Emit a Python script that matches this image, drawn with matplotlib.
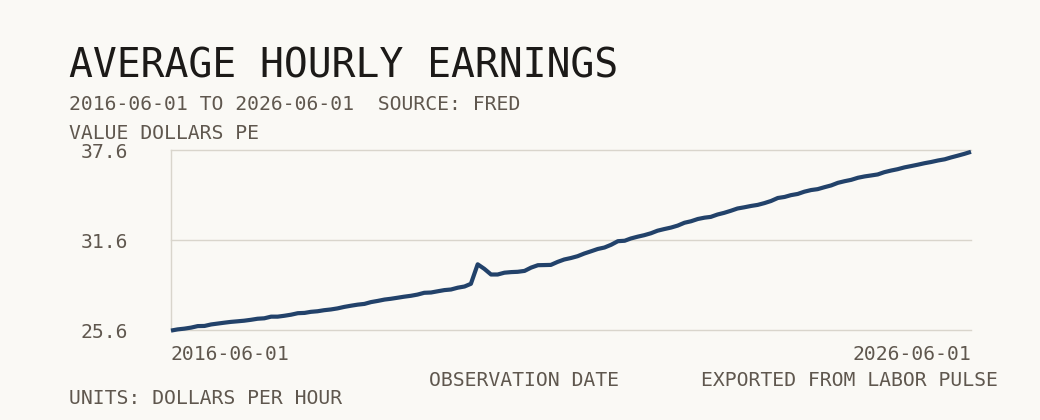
import numpy as np
import pandas as pd
from matplotlib import pyplot as plt

dates = pd.date_range("2016-06-01", "2026-06-01", freq="MS")
earnings = [
    25.56, 25.64, 25.69, 25.76, 25.86, 25.87, 25.97,                      # 2016 Jun-Dec
    26.03, 26.09, 26.14, 26.18, 26.22, 26.28, 26.35, 26.38, 26.49, 26.49, 26.55, 26.62,  # 2017
    26.72, 26.74, 26.81, 26.85, 26.92, 26.97, 27.04, 27.14, 27.22, 27.29, 27.34, 27.46,  # 2018
    27.54, 27.63, 27.68, 27.75, 27.82, 27.88, 27.96, 28.08, 28.10, 28.18, 28.26, 28.30,  # 2019
    28.42, 28.50, 28.68, 29.98, 29.68, 29.30, 29.30, 29.42, 29.46, 29.48, 29.54, 29.76,  # 2020
    29.92, 29.93, 29.94, 30.14, 30.30, 30.40, 30.52, 30.70, 30.85, 31.00, 31.10, 31.28,  # 2021
    31.52, 31.55, 31.70, 31.82, 31.92, 32.05, 32.22, 32.33, 32.43, 32.56, 32.75, 32.85,  # 2022
    33.00, 33.09, 33.14, 33.30, 33.41, 33.55, 33.70, 33.78, 33.87, 33.94, 34.06, 34.20,  # 2023
    34.40, 34.47, 34.59, 34.67, 34.82, 34.93, 34.99, 35.12, 35.24, 35.41, 35.52, 35.61,  # 2024
    35.75, 35.84, 35.90, 35.97, 36.12, 36.23, 36.32, 36.44, 36.53, 36.62, 36.72, 36.80,  # 2025
    36.90, 36.98, 37.10, 37.22, 37.34, 37.48,                                            # 2026 Jan-Jun
]
y_ticks = [25.6, 31.6, 37.6]
x_tick_labels = ["2016-06-01", "2026-06-01"]

BG = "#faf9f5"
INK = "#5f574e"
GRID = "#d9d5cc"
LINE = "#22426a"
W, H = 1040, 420
FS = 14.2

plt.rcParams["font.family"] = ["DejaVu Sans Mono", "DejaVu Sans"]

fig = plt.figure(figsize=(W / 100, H / 100), dpi=100, facecolor=BG)
ax = fig.add_axes([171 / W, 1 - 330 / H, 800 / W, 180 / H], facecolor=BG)

ax.plot(dates, earnings, color=LINE, lw=3.0, solid_capstyle="butt", clip_on=False, zorder=3)

ax.set_xlim(dates[0], dates[-1])
ax.set_ylim(y_ticks[0], y_ticks[-1])
ax.set_yticks(y_ticks)
ax.set_yticklabels([f"{v:.1f}" for v in y_ticks])
ax.set_xticks([dates[0], dates[-1]])
ax.set_xticklabels(x_tick_labels)
lbls = ax.get_xticklabels()
lbls[0].set_horizontalalignment("left")
lbls[1].set_horizontalalignment("right")

ax.grid(axis="y", color=GRID, lw=1.0)
ax.grid(axis="x", visible=False)
for gl in ax.get_ygridlines():
    gl.set_clip_on(False)
for side in ["top", "right", "bottom"]:
    ax.spines[side].set_visible(False)
ax.spines["left"].set_color(GRID)
ax.spines["left"].set_linewidth(1.0)
ax.tick_params(axis="y", length=0, pad=31, labelsize=FS, labelcolor=INK)
ax.tick_params(axis="x", length=0, pad=11, labelsize=FS, labelcolor=INK)


def ftext(x, y, s, **kw):
    fig.text(x / W, 1 - y / H, s, **kw)


ftext(69, 78, "AVERAGE HOURLY EARNINGS", fontsize=28.6, color="#1c1a18", va="baseline")
ftext(69, 110, "2016-06-01 TO 2026-06-01  SOURCE: FRED", fontsize=FS, color=INK, va="baseline")
ftext(69, 139, "VALUE DOLLARS PE", fontsize=FS, color=INK, va="baseline")
ftext(429, 386, "OBSERVATION DATE", fontsize=FS, color=INK, va="baseline")
ftext(998, 386, "EXPORTED FROM LABOR PULSE", fontsize=FS, color=INK, va="baseline", ha="right")
ftext(69, 404, "UNITS: DOLLARS PER HOUR", fontsize=FS, color=INK, va="baseline")

fig.savefig("out.png", dpi=100, facecolor=BG)
